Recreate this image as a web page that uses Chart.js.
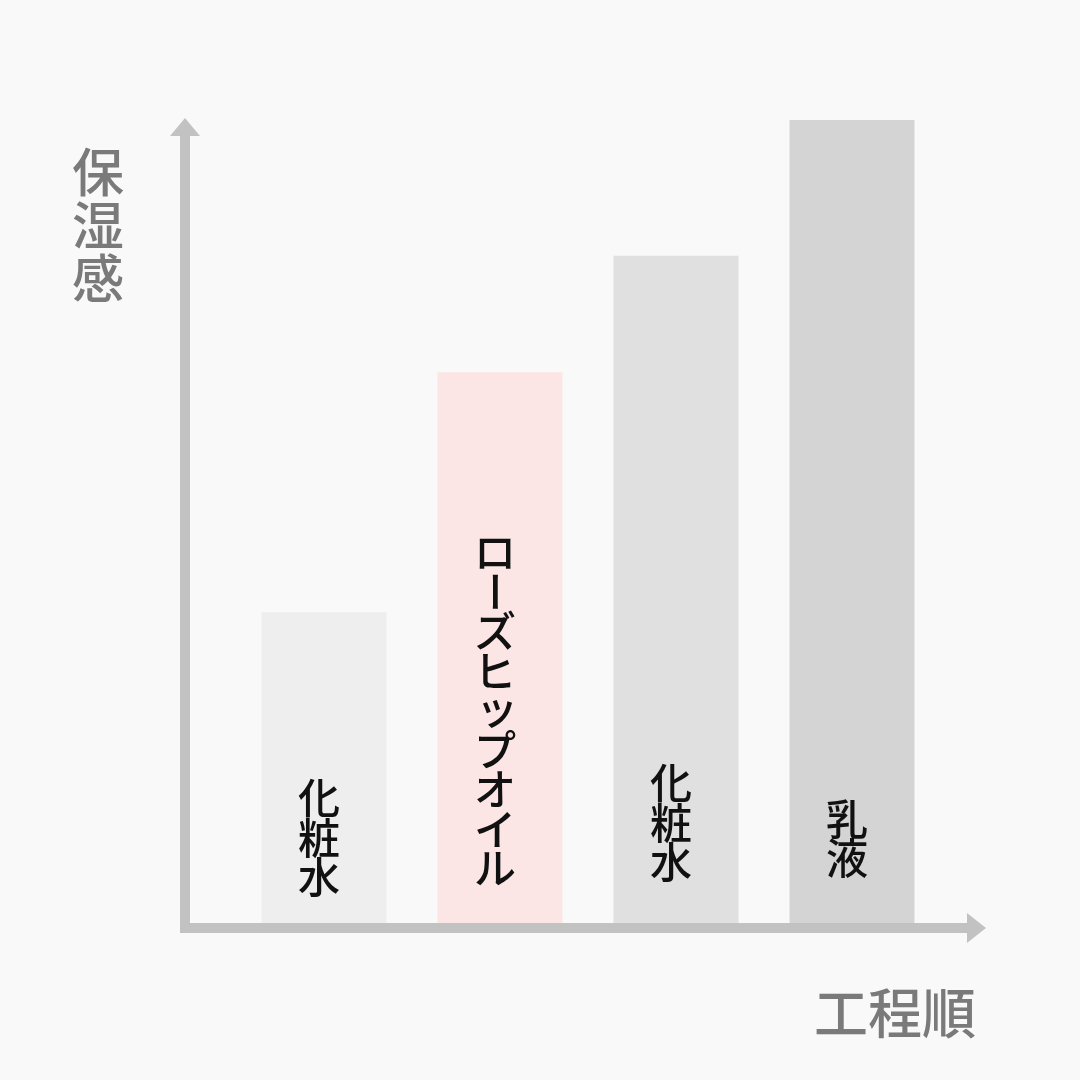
<!DOCTYPE html>
<html><head><meta charset="utf-8">
<script src="https://cdn.jsdelivr.net/npm/chart.js@4/dist/chart.umd.min.js"></script>
<style>html,body{margin:0;padding:0;background:#f9f9f9;}#wrap{width:1080px;height:1080px;}</style>
</head><body><div id="wrap"><canvas id="c" width="1080" height="1080"></canvas></div>
<script>
const categories = ['化粧水', 'ローズヒップオイル', '化粧水', '乳液'];
const moisture = [38.7, 68.6, 83.1, 100];
const barColors = ['#eeeeee', '#fbe5e5', '#e0e0e0', '#d4d4d4'];
const yTitle = '保湿感';
const xTitle = '工程順';

const labelBottoms = [26, 35, 41, 45]; // gap from baseline to label bottom (style)

const decor = {
  id: 'decor',
  beforeDraw(chart) {
    const ctx = chart.ctx;
    ctx.save();
    ctx.fillStyle = '#f9f9f9';
    ctx.fillRect(0, 0, chart.width, chart.height);
    ctx.restore();
  },
  afterDatasetsDraw(chart) {
    const ctx = chart.ctx;
    const a = chart.chartArea;
    ctx.save();
    // axes
    ctx.fillStyle = '#c2c2c2';
    const vx = a.left - 51, base = a.bottom;
    ctx.fillRect(vx - 5, 135, 10, base + 10 - 135);
    ctx.beginPath(); ctx.moveTo(vx - 15, 136); ctx.lineTo(vx + 15, 136); ctx.lineTo(vx, 118); ctx.closePath(); ctx.fill();
    ctx.fillRect(vx - 5, base, 968 - (vx - 5), 10);
    ctx.beginPath(); ctx.moveTo(967, base - 10); ctx.lineTo(967, base + 20); ctx.lineTo(986, base + 5); ctx.closePath(); ctx.fill();

    // bar labels vertical
    const meta = chart.getDatasetMeta(0);
    ctx.fillStyle = '#111111';
    ctx.font = '500 42px "Noto Sans CJK JP", sans-serif';
    ctx.textAlign = 'center';
    ctx.textBaseline = 'middle';
    meta.data.forEach((bar, i) => {
      const chars = Array.from(categories[i]);
      const pitch = 39.5;
      const bottom = base - labelBottoms[i];
      chars.forEach((ch, j) => {
        const cy = bottom - (chars.length - j - 0.5) * pitch;
        const cx = bar.x - 5;
        if (ch === 'ー') {
          ctx.save(); ctx.translate(cx, cy); ctx.rotate(Math.PI / 2); ctx.fillText(ch, 0, 0); ctx.restore();
        } else if (ch === 'ッ') {
          ctx.fillText(ch, cx + 2, cy - 2);
        } else {
          ctx.fillText(ch, cx, cy);
        }
      });
    });

    // axis titles
    ctx.fillStyle = '#7a7a7a';
    ctx.font = '500 52px "Noto Sans CJK JP", sans-serif';
    Array.from(yTitle).forEach((ch, j) => {
      ctx.fillText(ch, 98, 172 + j * 53);
    });
    ctx.font = '500 54px "Noto Sans CJK JP", sans-serif';
    ctx.textAlign = 'right';
    ctx.fillText(xTitle, 976, 1013);
    ctx.restore();
  }
};

new Chart(document.getElementById('c'), {
  type: 'bar',
  data: {
    labels: categories,
    datasets: [{
      data: moisture,
      backgroundColor: barColors,
      borderWidth: 0,
      barPercentage: 0.71,
      categoryPercentage: 1.0
    }]
  },
  options: {
    responsive: false,
    animation: false,
    devicePixelRatio: 1,
    layout: { padding: { left: 236, right: 140, top: 120, bottom: 157 } },
    plugins: { legend: { display: false }, tooltip: { enabled: false } },
    scales: {
      x: { display: false },
      y: { display: false, min: 0, max: 100 }
    }
  },
  plugins: [decor]
});
</script></body></html>
